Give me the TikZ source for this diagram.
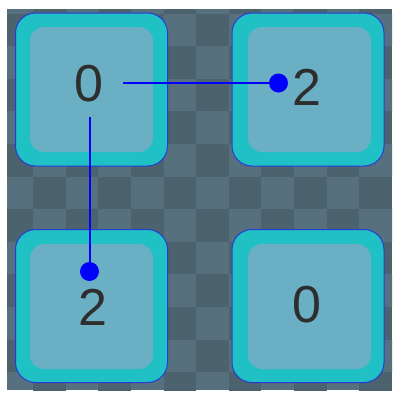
\documentclass[tikz,border=0pt]{standalone}
\usepackage{fontspec}
\setmainfont{Liberation Sans}
\definecolor{bglight}{HTML}{57707D}
\definecolor{bgdark}{HTML}{4C626D}
\definecolor{tileteal}{HTML}{1FC1C4}
\definecolor{tileinner}{HTML}{6AAFC3}
\definecolor{tileedge}{HTML}{2A3AD8}
\definecolor{digit}{HTML}{2E2E2E}
\definecolor{link}{HTML}{0000FF}
\tikzset{
  tileouter/.style={draw=tileedge, line width=1pt, fill=tileteal, rounded corners=20pt,
    minimum width=152pt, minimum height=153pt, inner sep=0pt},
  tileinnerbox/.style={fill=tileinner, rounded corners=14pt,
    minimum width=123pt, minimum height=125pt, inner sep=0pt},
  digitlabel/.style={text=digit, inner sep=0pt, font=\fontsize{52}{52}\selectfont},
  dotnode/.style={circle, fill=link, minimum size=19pt, inner sep=0pt},
  linkline/.style={draw=link, line width=2pt}
}
\begin{document}
\begin{tikzpicture}[x=1pt,y=-1pt]
\useasboundingbox (0,0) rectangle (400,400);
% background checkerboard
\begin{scope}
\clip (7,9) rectangle (392,390);
\fill[bglight] (7,9) rectangle (392,390);
\foreach \r in {0,...,12}{
  \foreach \c in {0,...,12}{
    \pgfmathtruncatemacro\odd{mod(\r+\c,2)}
    \ifnum\odd=1
      \fill[bgdark] ({0.5+32.6*\c},{-19+32.6*\r}) rectangle ({0.5+32.6*(\c+1)},{-19+32.6*(\r+1)});
    \fi
  }
}
\end{scope}
% tiles
\node[tileouter] (tl) at (91.5,89.5) {};
\node[tileouter] (tr) at (308,89.5) {};
\node[tileouter] (bl) at (91.5,306) {};
\node[tileouter] (br) at (308,306) {};
\node[tileinnerbox] (tli) at (91.5,89.5) {};
\node[tileinnerbox] (tri) at (309.5,89.5) {};
\node[tileinnerbox] (bli) at (91.5,306.5) {};
\node[tileinnerbox] (bri) at (309.5,306.5) {};
% digits
\node[digitlabel] (ltl) at (89,84) {0};
\node[digitlabel] (ltr) at (307,87) {2};
\node[digitlabel] (lbl) at (93,307) {2};
\node[digitlabel] (lbr) at (307,305) {0};
% links
\coordinate (hstart) at (123,83);
\coordinate (vstart) at (89.5,117);
\node[dotnode] (dtr) at (278.5,83) {};
\node[dotnode] (dbl) at (89.5,271.5) {};
\draw[linkline] (hstart) -- (dtr.center);
\draw[linkline] (vstart) -- (dbl.center);
\end{tikzpicture}
\end{document}
